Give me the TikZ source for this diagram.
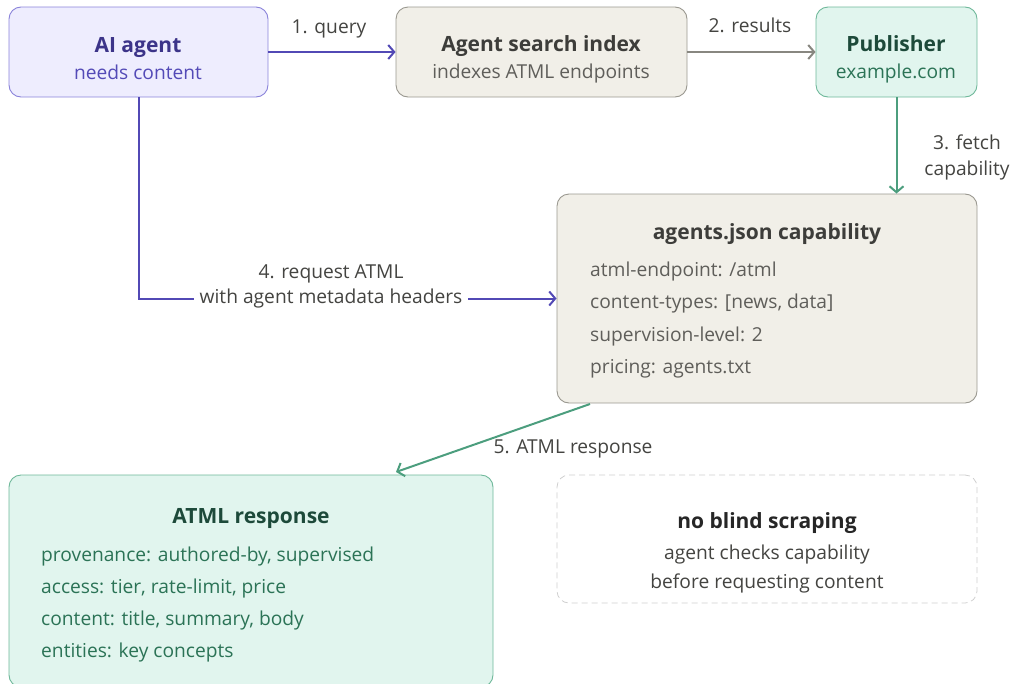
\documentclass[tikz,border=0pt]{standalone}
\usepackage{fontspec}
\setmainfont{Open Sans}
\usetikzlibrary{arrows.meta,calc}
\definecolor{pFill}{HTML}{EEEDFE}
\definecolor{pBorder}{HTML}{8A83DA}
\definecolor{pTitle}{HTML}{3C3489}
\definecolor{pSub}{HTML}{534AB7}
\definecolor{pArrow}{HTML}{5249B5}
\definecolor{gFill}{HTML}{F1EFE8}
\definecolor{gBorder}{HTML}{9A9890}
\definecolor{gTitle}{HTML}{3D3D3A}
\definecolor{gSub}{HTML}{5F5E5A}
\definecolor{gArrow}{HTML}{888780}
\definecolor{tFill}{HTML}{E1F5EE}
\definecolor{tBorder}{HTML}{6FB89A}
\definecolor{tTitle}{HTML}{1D4A3A}
\definecolor{tSub}{HTML}{2B7356}
\definecolor{tArrow}{HTML}{4C9E7E}
\definecolor{lbl}{HTML}{444441}
\definecolor{dashB}{HTML}{CFCFCF}
\tikzset{
  box/.style={draw, rounded corners=12pt, line width=0.9pt, inner sep=0pt},
  ttl/.style={font=\fontsize{21}{24}\selectfont\bfseries, inner sep=0pt, anchor=base},
  sub/.style={font=\fontsize{19.2}{22}\selectfont, inner sep=0pt, anchor=base},
  item/.style={font=\fontsize{19.2}{22}\selectfont, inner sep=0pt, anchor=base west},
  lab/.style={font=\fontsize{19.2}{22}\selectfont, text=lbl, inner sep=0pt, anchor=base},
  arr/.style={line width=2pt, -{Straight Barb[length=6pt,width=14pt,line width=2pt]}},
}
\begin{document}
\begin{tikzpicture}[x=1pt,y=-1pt]
\useasboundingbox (0,0) rectangle (1014,683);
\begin{scope}
\clip (0,0) rectangle (1014,683);
% boxes
\node[box, fill=pFill, draw=pBorder, minimum width=259pt, minimum height=90pt] (agent) at (138.5,52) {};
\node[box, fill=gFill, draw=gBorder, minimum width=291pt, minimum height=90pt] (index) at (541.5,52) {};
\node[box, fill=tFill, draw=tBorder, minimum width=161pt, minimum height=90pt] (pub) at (896.5,52) {};
\node[box, fill=gFill, draw=gBorder, minimum width=420pt, minimum height=209pt] (cap) at (767,298.5) {};
\node[box, fill=tFill, draw=tBorder, minimum width=484pt, minimum height=212pt] (resp) at (251,581) {};
\node[box, fill=white, draw=dashB, dashed, dash pattern=on 6pt off 4pt, line width=0.8pt, minimum width=420pt, minimum height=128pt] (scrape) at (767,539) {};
\end{scope}
% texts
\node[ttl, text=pTitle] (agentT) at (138,52) {AI agent};
\node[sub, text=pSub] (agentS) at (138,79) {needs content};
\node[ttl, text=gTitle] (indexT) at (541,51) {Agent search index};
\node[sub, text=gSub] (indexS) at (541,78) {indexes ATML endpoints};
\node[ttl, text=tTitle] (pubT) at (896,51) {Publisher};
\node[sub, text=tSub] (pubS) at (896,78) {example.com};
\node[ttl, text=gTitle] (capT) at (767,239) {agents.json capability};
\node[item, text=gSub] (cap1) at (590,276) {atml-endpoint: /atml};
\node[item, text=gSub] (cap2) at (590,308) {content-types: [news, data]};
\node[item, text=gSub] (cap3) at (590,341) {supervision-level: 2};
\node[item, text=gSub] (cap4) at (590,373) {pricing: agents.txt};
\node[ttl, text=tTitle] (respT) at (251,523) {ATML response};
\node[item, text=tSub] (resp1) at (41,561) {provenance: authored-by, supervised};
\node[item, text=tSub] (resp2) at (41,593) {access: tier, rate-limit, price};
\node[item, text=tSub] (resp3) at (41,625) {content: title, summary, body};
\node[item, text=tSub] (resp4) at (41,657) {entities: key concepts};
\node[ttl, text=black!85] (scrT) at (767,528) {no blind scraping};
\node[sub, text=lbl] (scr1) at (767,559) {agent checks capability};
\node[sub, text=lbl] (scr2) at (767,588) {before requesting content};
% connectors
\draw[arr, pArrow] (agent.east) -- (index.west);
\node[lab] (l1) at (329,33) {1. query};
\draw[arr, gArrow] (index.east) -- (pub.west);
\node[lab] (l2) at (750,32) {2. results};
\draw[arr, tArrow] (pub.south) -- (pub.south |- cap.north);
\node[lab] (l3a) at (967,149) {3. fetch};
\node[lab] (l3b) at (967,175) {capability};
\coordinate (bend) at (agent.south |- cap.west);
\draw[arr, pArrow] (agent.south) -- (bend) -- (cap.west);
\node[lab] (l4a) at (331,278) {4. request ATML};
\node[lab, fill=white, inner xsep=6pt, inner ysep=3pt] (l4b) at (331,303) {with agent metadata headers};
\coordinate (s5) at (590,404);
\coordinate (e5) at (396,472);
\draw[arr, tArrow] (s5) -- (e5);
\node[lab] (l5) at (573,453) {5. ATML response};
\end{tikzpicture}
\end{document}
